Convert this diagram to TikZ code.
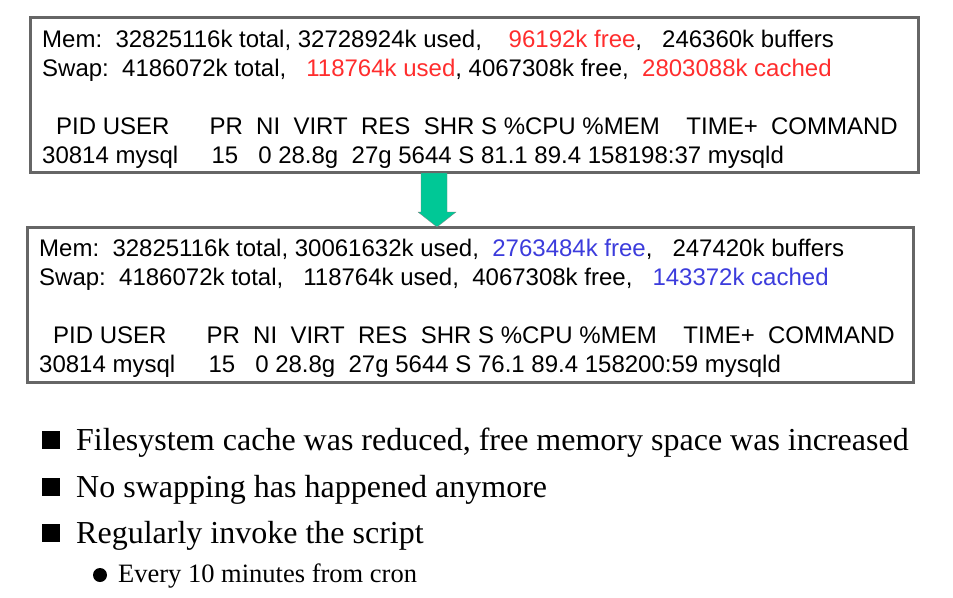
\documentclass[tikz,border=0pt]{standalone}
\usepackage{fontspec}
\setmainfont{Liberation Serif}
\newfontfamily\arial{Liberation Sans}
\definecolor{myred}{RGB}{255,45,45}
\definecolor{myblue}{RGB}{60,60,220}
\definecolor{mygreen}{RGB}{0,200,150}
\begin{document}
\begin{tikzpicture}[x=1pt,y=-1pt,
  boxst/.style={draw=black!60,line width=3pt},
  ln/.style={anchor=base west,inner sep=0pt,font=\arial\fontsize{24}{26}\selectfont},
  bl/.style={anchor=base west,inner sep=0pt,font=\fontsize{32}{36}\selectfont},
  sbl/.style={anchor=base west,inner sep=0pt,font=\fontsize{26.5}{30}\selectfont}]
\useasboundingbox (0,0) rectangle (953,597);
\draw[boxst] (30,17) rectangle (918,172);
\node[ln] (a1) at (42,47) {Mem:\ \ 32825116k total, 32728924k used, \ \ \ \textcolor{myred}{96192k free}, \ \ 246360k buffers};
\node[ln] (a2) at (42,76) {Swap:\ \ 4186072k total, \ \ \textcolor{myred}{118764k used}, 4067308k free, \ \textcolor{myred}{2803088k cached}};
\node[ln] (a3) at (56,134) {PID USER \ \ \ \ \ PR \ NI \ VIRT \ RES \ SHR S \%CPU \%MEM \ \ \ TIME+ \ COMMAND};
\node[ln] (a4) at (42,163) {30814 mysql \ \ \ \ 15 \ \ 0 28.8g \ 27g 5644 S 81.1 89.4 158198:37 mysqld};
\draw[boxst] (27,227) rectangle (913,382);
\node[ln] (b1) at (39,256) {Mem:\ \ 32825116k total, 30061632k used, \ \textcolor{myblue}{2763484k free}, \ \ 247420k buffers};
\node[ln] (b2) at (39,285) {Swap:\ \ 4186072k total, \ \ 118764k used, \ 4067308k free, \ \ \textcolor{myblue}{143372k cached}};
\node[ln] (b3) at (53,343) {PID USER \ \ \ \ \ PR \ NI \ VIRT \ RES \ SHR S \%CPU \%MEM \ \ \ TIME+ \ COMMAND};
\node[ln] (b4) at (39,372) {30814 mysql \ \ \ \ 15 \ \ 0 28.8g \ 27g 5644 S 76.1 89.4 158200:59 mysqld};
\fill[mygreen,draw=black!50,line width=0.3pt] (421,173) -- (447,173) -- (447,212) -- (456,212) -- (437,227) -- (418,212) -- (421,212) -- cycle;
\foreach \y/\t in {450/{Filesystem cache was reduced, free memory space was increased},497/{No swapping has happened anymore},543/{Regularly invoke the script}}{
  \fill (42,\y-19) rectangle (60,\y-1);
  \node[bl] at (76,\y) {\t};
}
\fill (100,575) circle (7);
\node[sbl] (s1) at (118,582) {Every 10 minutes from cron};
\end{tikzpicture}
\end{document}
